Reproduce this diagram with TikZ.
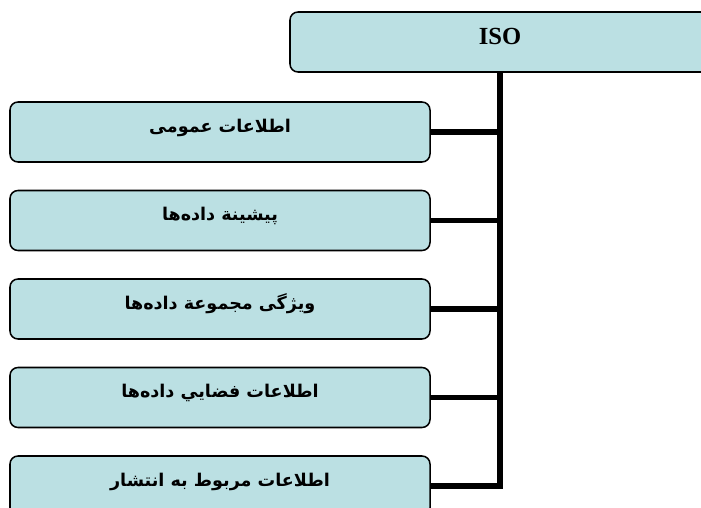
\documentclass[tikz,border=0pt]{standalone}
\usepackage{fontspec}
\setmainfont{Liberation Serif}
\newfontfamily\arabicfont[Script=Arabic]{DejaVu Sans}
\TeXXeTstate=1
\definecolor{hopfill}{RGB}{187,224,227}
\begin{document}
\begin{tikzpicture}[x=0.03cm,y=-0.03cm,
	hop/.style={draw,line width=1.3pt,fill=hopfill,rounded corners=0.24cm,minimum width=12.6cm,minimum height=1.8cm,inner sep=0pt},
	noi/.style={line width=4.3pt}]
	\useasboundingbox (0,0) rectangle (701,508);
	\clip (0,0) rectangle (701,508);
	
	\node[hop,font=\bfseries\fontsize{21}{21}\selectfont,text height=0.55cm,text depth=0.37cm] (iso) at (500,42) {ISO};
	\foreach \chu/\k in {اطلاعات عمومی/1,پیشینة داده‌ها/2,ویژگی مجموعة داده‌ها/3,اطلاعات فضايي داده‌ها/4,اطلاعات مربوط به انتشار/5}
	\node[hop,font=\arabicfont\bfseries\fontsize{15}{15}\selectfont,text height=0.5cm,text depth=0.48cm] (b\k) at (220,{132+88.5*(\k-1)}) {\beginR\chu\endR};
	
	\draw[noi] (iso.south) |- (b5.east);
	\foreach \k in {1,...,4}
	\draw[noi] (b\k.east) -- (b\k.east -| iso.south);
\end{tikzpicture}
\end{document}
